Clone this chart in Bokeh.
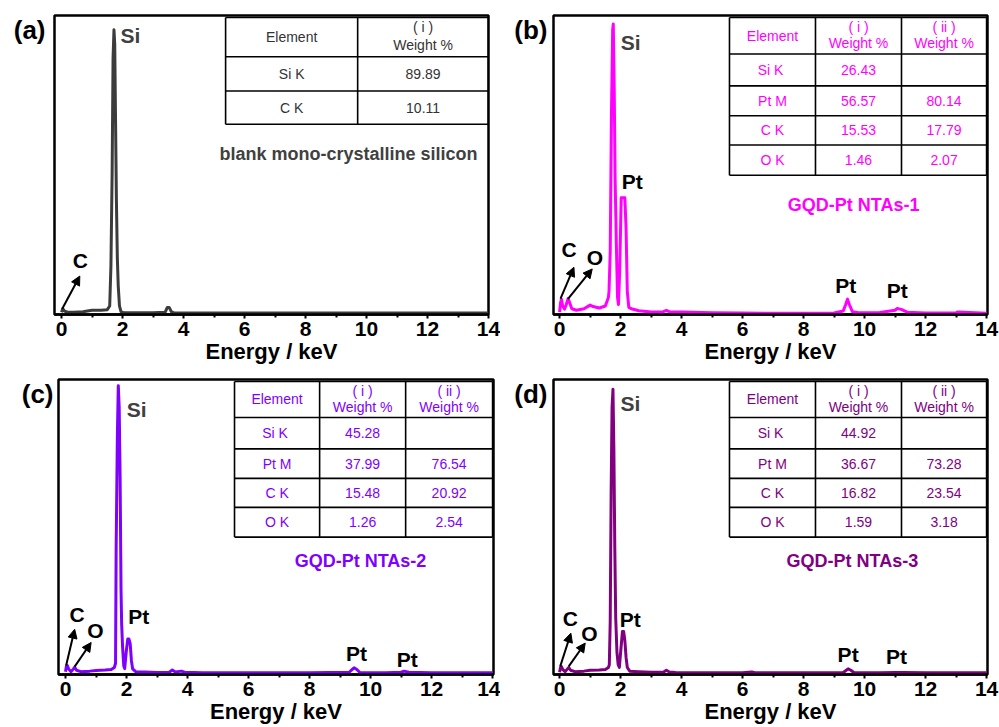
from bokeh.plotting import figure
from bokeh.models import Range1d, FixedTicker, Arrow, NormalHead
from bokeh.layouts import column, row
from bokeh.embed import file_html
from bokeh.resources import INLINE
from bokeh.core.properties import value

FONT = "Liberation Sans"

# ---------------- data ----------------
tick_values = [0, 2, 4, 6, 8, 10, 12, 14]
minor_tick_values = [1, 3, 5, 7, 9, 11, 13]
x_axis_title = "Energy / keV"

energy_a = [0.0, 0.04, 0.1, 0.2, 0.4, 0.7, 1.0, 1.3, 1.5, 1.58, 1.62, 1.66, 1.69, 1.72, 1.745,
            1.77, 1.80, 1.83, 1.86, 1.90, 1.95, 2.05, 2.5, 3.0, 3.4, 3.47, 3.53, 3.6, 3.7,
            5.0, 8.0, 11.0, 14.0]
counts_a = [0.8, 2.0, 1.2, 0.8, 0.8, 1.0, 1.5, 1.5, 1.7, 3.0, 17, 50, 90, 100, 95,
            70, 40, 20, 10, 3.0, 1.0, 0.6, 0.6, 0.6, 0.8, 2.5, 2.5, 1.0, 0.5,
            0.5, 0.5, 0.5, 0.5]

energy_b = [0.0, 0.03, 0.06, 0.1, 0.16, 0.22, 0.28, 0.32, 0.4, 0.55, 0.8, 1.0, 1.1, 1.3, 1.5,
            1.6, 1.62, 1.66, 1.70, 1.74, 1.76, 1.79, 1.82, 1.86, 1.90, 1.93, 1.97, 2.02, 2.08,
            2.14, 2.18, 2.22, 2.27, 2.35, 2.6, 3.0, 3.4, 3.5, 3.6, 4.0, 5.0, 6.0, 7.0, 8.0,
            9.0, 9.3, 9.38, 9.44, 9.5, 9.6, 9.8, 10.5, 11.0, 11.07, 11.2, 11.4, 12.0, 13.0,
            13.05, 14.0]
counts_b = [0.8, 4.0, 5.4, 3.0, 1.9, 3.5, 5.6, 4.5, 2.0, 1.5, 2.0, 3.3, 2.8, 2.3, 3.0,
            6.0, 8.0, 22, 70, 100, 102, 80, 48, 25, 6.0, 3.5, 15, 41, 41,
            41, 30, 8.0, 2.5, 2.0, 1.3, 0.9, 1.0, 1.4, 1.0, 0.9, 0.6, 0.5, 0.4, 0.4,
            0.5, 1.2, 3.5, 5.4, 3.5, 1.0, 0.6, 0.7, 1.5, 2.1, 1.8, 0.8, 0.5, 0.5,
            0.9, 0.4]

energy_c = [0.0, 0.03, 0.06, 0.1, 0.18, 0.26, 0.3, 0.36, 0.5, 0.8, 1.0, 1.3, 1.5, 1.6,
            1.64, 1.66, 1.70, 1.73, 1.76, 1.79, 1.82, 1.84, 1.87, 1.91, 1.94, 1.99, 2.04,
            2.08, 2.12, 2.16, 2.2, 2.3, 2.6, 3.0, 3.4, 3.5, 3.6, 3.8, 3.9, 4.5, 6.0, 8.0,
            9.3, 9.4, 9.46, 9.55, 9.65, 10.5, 11.0, 11.1, 11.25, 12.0, 14.0]
counts_c = [1.0, 3.0, 3.2, 2.0, 1.0, 2.0, 2.6, 1.5, 1.0, 1.2, 1.4, 1.6, 1.8, 2.5,
            4.0, 45, 85, 102.8, 95, 70, 30, 18, 10, 3.0, 2.1, 8.0, 12.6,
            12.6, 11, 5.0, 2.0, 1.0, 0.9, 0.7, 0.8, 1.6, 0.9, 1.2, 0.8, 0.6, 0.6, 0.6,
            0.8, 1.8, 2.4, 1.8, 0.7, 0.6, 0.8, 1.2, 0.8, 0.6, 0.6]

energy_d = [0.0, 0.03, 0.06, 0.1, 0.18, 0.26, 0.3, 0.36, 0.5, 0.8, 1.0, 1.3, 1.5, 1.6,
            1.63, 1.66, 1.69, 1.72, 1.75, 1.78, 1.81, 1.84, 1.88, 1.92, 1.96, 2.01, 2.06,
            2.1, 2.14, 2.18, 2.22, 2.3, 2.6, 3.0, 3.4, 3.5, 3.6, 3.8, 4.5, 6.0, 6.3, 6.4,
            8.0, 9.3, 9.4, 9.46, 9.55, 9.65, 10.5, 11.0, 11.3, 12.0, 14.0]
counts_d = [0.8, 2.5, 2.8, 1.8, 1.0, 2.0, 2.5, 1.5, 1.0, 1.2, 1.5, 1.6, 1.8, 2.5,
            3.5, 19, 65, 95, 101.5, 80, 45, 20, 8.0, 3.5, 2.5, 9.0, 15.3,
            15.3, 12, 6.0, 2.5, 1.2, 1.0, 0.8, 0.8, 1.5, 0.9, 0.7, 0.6, 0.6, 0.9, 0.6,
            0.6, 0.7, 1.5, 2.0, 1.5, 0.7, 0.6, 0.7, 0.7, 0.6, 0.6]

header_element = "Element"
header_i = "( i )"
header_ii = "( ii )"
header_weight = "Weight %"

elements_a = ["Si K", "C K"]
weight_i_a = ["89.89", "10.11"]

elements_pt = ["Si  K", "Pt M", "C K", "O K"]
weight_i_b = ["26.43", "56.57", "15.53", "1.46"]
weight_ii_b = ["", "80.14", "17.79", "2.07"]
weight_i_c = ["45.28", "37.99", "15.48", "1.26"]
weight_ii_c = ["", "76.54", "20.92", "2.54"]
weight_i_d = ["44.92", "36.67", "16.82", "1.59"]
weight_ii_d = ["", "73.28", "23.54", "3.18"]

sample_names = ["blank mono-crystalline silicon", "GQD-Pt NTAs-1", "GQD-Pt NTAs-2", "GQD-Pt NTAs-3"]
panel_tags = ["(a)", "(b)", "(c)", "(d)"]

colors = ["#3c3c3c", "#ff00ff", "#7f00ff", "#800080"]
SI_COLOR = "#404040"


# ---------------- helpers ----------------
def make_fig(width, height, xr, bl, br, bt, bb, tag, tag_standoff):
    p = figure(width=width, height=height, x_range=Range1d(*xr), y_range=Range1d(0, 105),
               min_border_left=bl, min_border_right=br, min_border_top=bt, min_border_bottom=bb,
               output_backend="svg", toolbar_location=None, tools="")
    p.background_fill_color = "white"
    p.border_fill_color = "white"
    p.outline_line_color = "black"
    p.outline_line_width = 2.5
    p.xgrid.visible = False
    p.ygrid.visible = False
    # left axis only carries the panel tag, e.g. "(a)"
    ya = p.yaxis[0]
    ya.ticker = FixedTicker(ticks=[100])
    ya.major_label_overrides = {100: tag}
    ya.axis_line_color = None
    ya.major_tick_line_color = None
    ya.minor_tick_line_color = None
    ya.major_tick_out = 0
    ya.major_tick_in = 0
    ya.major_label_standoff = tag_standoff
    ya.major_label_text_font = FONT
    ya.major_label_text_font_size = "26px"
    ya.major_label_text_font_style = "bold"
    ya.major_label_text_color = "black"
    ax = p.xaxis[0]
    ax.ticker = FixedTicker(ticks=tick_values, minor_ticks=minor_tick_values)
    ax.axis_label = x_axis_title
    ax.axis_label_text_font = FONT
    ax.axis_label_text_font_size = "22px"
    ax.axis_label_text_font_style = "bold"
    ax.axis_label_text_color = "black"
    ax.axis_label_standoff = 0
    ax.major_label_text_font = FONT
    ax.major_label_text_font_size = "21px"
    ax.major_label_text_font_style = "bold"
    ax.major_label_text_color = "black"
    ax.major_label_standoff = 3
    ax.axis_line_width = 2.5
    ax.axis_line_color = "black"
    ax.major_tick_in = 0
    ax.major_tick_out = 4
    ax.minor_tick_in = 0
    ax.minor_tick_out = 3
    ax.major_tick_line_width = 2
    ax.minor_tick_line_width = 2
    return p


def draw_table(p, col_edges, row_edges, headers, body, color, hdr_dy=(3.1, -2.7)):
    x0, x1 = col_edges[0], col_edges[-1]
    y0, y1 = row_edges[0], row_edges[-1]
    p.segment(x0=[x0] * len(row_edges), y0=row_edges, x1=[x1] * len(row_edges), y1=row_edges,
              line_color="black", line_width=1.6)
    p.segment(x0=col_edges, y0=[y0] * len(col_edges), x1=col_edges, y1=[y1] * len(col_edges),
              line_color="black", line_width=1.6)
    centers = [(col_edges[i] + col_edges[i + 1]) / 2 for i in range(len(col_edges) - 1)]
    hc = (row_edges[0] + row_edges[1]) / 2
    tx, ty, tt = [], [], []
    tx.append(centers[0]); ty.append(hc); tt.append(headers[0])
    for j, h in enumerate(headers[1:]):
        tx.append(centers[j + 1]); ty.append(hc + hdr_dy[0]); tt.append(h)
        tx.append(centers[j + 1]); ty.append(hc + hdr_dy[1]); tt.append(header_weight)
    for r in range(len(body[0])):
        rc = (row_edges[r + 1] + row_edges[r + 2]) / 2
        for c in range(len(body)):
            tx.append(centers[c]); ty.append(rc); tt.append(body[c][r])
    p.text(x=tx, y=ty, text=tt, text_align="center", text_baseline="middle",
           text_font=value(FONT), text_font_size="14px", text_color=color)


def draw_marks(p, labels, arrows):
    xs = [l[0] for l in labels]
    ys = [l[1] for l in labels]
    ts = [l[2] for l in labels]
    cs = [l[3] for l in labels]
    p.text(x=xs, y=ys, text=ts, text_color=cs, text_align="center", text_baseline="middle",
           text_font=value(FONT), text_font_size="21px", text_font_style="bold")
    for (xa, ya, xb, yb) in arrows:
        p.add_layout(Arrow(end=NormalHead(size=9, fill_color="black", line_color="black"),
                           x_start=xa, y_start=ya, x_end=xb, y_end=yb,
                           line_color="black", line_width=2))


def sample(p, x, y, text, color):
    p.text(x=[x], y=[y], text=[text], text_align="center", text_baseline="middle",
           text_font=value(FONT), text_font_size="18px", text_font_style="bold", text_color=color)


cols_pt = [5.57, 8.39, 11.21, 14.0]
rows_pt = [104.3, 91.5, 80.3, 69.8, 59.5, 48.9]

# ---------------- (a) ----------------
pa = make_fig(500, 367, (-0.23, 14.0), 54, 12, 15, 53, panel_tags[0], 9)
pa.line(energy_a, counts_a, line_color=colors[0], line_width=3, line_join="round")
draw_table(pa, [5.38, 9.71, 14.0], [104.3, 90.5, 78.5, 66.8], [header_element, header_i],
           [elements_a, weight_i_a], "#333333", hdr_dy=(3.4, -2.6))
sample(pa, 9.41, 56.2, sample_names[0], SI_COLOR)
draw_marks(pa, [(2.26, 97.9, "Si", SI_COLOR), (0.62, 19.1, "C", "black")],
           [(0.02, 1.9, 0.6, 13.5)])

# ---------------- (b) ----------------
pb = make_fig(499, 367, (-0.2, 14.03), 53, 12, 15, 53, panel_tags[1], 6)
pb.line(energy_b, counts_b, line_color=colors[1], line_width=3, line_join="round")
draw_table(pb, cols_pt, rows_pt, [header_element, header_i, header_ii],
           [elements_pt, weight_i_b, weight_ii_b], colors[1])
sample(pb, 9.64, 38.5, sample_names[1], colors[1])
draw_marks(pb, [(2.33, 95.5, "Si", SI_COLOR), (2.38, 46.6, "Pt", "black"),
                (0.31, 22.8, "C", "black"), (1.16, 20.1, "O", "black"),
                (9.38, 10.1, "Pt", "black"), (11.07, 8.4, "Pt", "black")],
           [(0.03, 5.6, 0.47, 16.6), (0.27, 5.4, 1.07, 16.0)])

# ---------------- (c) ----------------
pc = make_fig(500, 360, (-0.23, 14.03), 58, 7, 10, 53, panel_tags[2], 5)
pc.line(energy_c, counts_c, line_color=colors[2], line_width=3, line_join="round")
draw_table(pc, [5.54, 8.33, 11.15, 14.0], rows_pt, [header_element, header_i, header_ii],
           [elements_pt, weight_i_c, weight_ii_c], colors[2])
sample(pc, 9.67, 40.3, sample_names[2], colors[2])
draw_marks(pc, [(2.33, 94.5, "Si", SI_COLOR), (2.40, 20.8, "Pt", "black"),
                (0.38, 21.2, "C", "black"), (0.98, 15.5, "O", "black"),
                (9.54, 7.3, "Pt", "black"), (11.2, 5.5, "Pt", "black")],
           [(0.02, 3.2, 0.3, 16.1), (0.3, 2.8, 0.84, 11.4)])

# ---------------- (d) ----------------
pd = make_fig(499, 360, (-0.2, 14.03), 53, 12, 12, 53, panel_tags[3], 6)
pd.line(energy_d, counts_d, line_color=colors[3], line_width=3, line_join="round")
draw_table(pd, cols_pt, rows_pt, [header_element, header_i, header_ii],
           [elements_pt, weight_i_d, weight_ii_d], colors[3])
sample(pd, 9.6, 40.3, sample_names[3], colors[3])
draw_marks(pd, [(2.32, 96.6, "Si", SI_COLOR), (2.32, 19.7, "Pt", "black"),
                (0.35, 20.0, "C", "black"), (0.98, 14.7, "O", "black"),
                (9.46, 7.1, "Pt", "black"), (11.05, 6.5, "Pt", "black")],
           [(0.02, 2.9, 0.37, 14.7), (0.3, 2.9, 0.84, 11.2)])

layout = column(row(pa, pb), row(pc, pd))
open("out.html", "w").write(file_html(layout, INLINE))
